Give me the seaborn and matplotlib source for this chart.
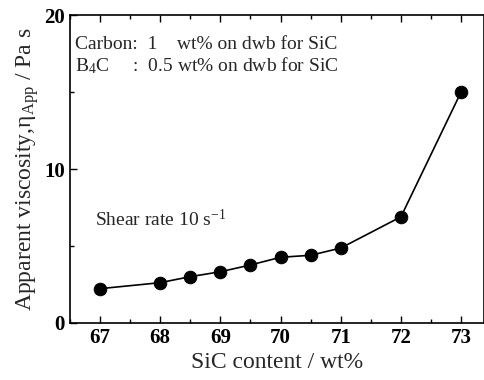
import matplotlib
matplotlib.use("Agg")
import matplotlib.pyplot as plt
import seaborn as sns
import pandas as pd
from matplotlib.ticker import MultipleLocator

sic = [67, 68, 68.5, 69, 69.5, 70, 70.5, 71, 72, 73]
visc = [2.23, 2.62, 3.01, 3.33, 3.77, 4.27, 4.40, 4.87, 6.90, 15.02]
xticks = [67, 68, 69, 70, 71, 72, 73]
yticks = [0, 10, 20]

sns.set_theme(style="ticks")
plt.rcParams['font.family'] = ['Liberation Serif', 'DejaVu Serif']
plt.rcParams['mathtext.fontset'] = 'custom'
plt.rcParams['mathtext.rm'] = 'Liberation Serif'
plt.rcParams['mathtext.it'] = 'Liberation Serif'

df = pd.DataFrame({"sic": sic, "visc": visc})
fig = plt.figure(figsize=(4.85, 3.8), dpi=100)
ax = fig.add_axes([0.144, 0.15, 0.854, 0.81])
sns.lineplot(data=df, x="sic", y="visc", ax=ax, color="black", lw=1.2,
             marker="o", markersize=9, markerfacecolor="black", markeredgecolor="black")
ax.set_xlim(66.5, 73.38)
ax.set_ylim(0, 20)
ax.set_xticks(xticks)
ax.set_yticks(yticks)
ax.xaxis.set_minor_locator(MultipleLocator(0.5))
ax.yaxis.set_minor_locator(MultipleLocator(5))
ax.tick_params(which="both", direction="in", top=True, right=False, labelsize=15, width=1, colors="black")
ax.tick_params(which="major", length=5)
ax.tick_params(which="minor", length=3)
for lab in ax.get_xticklabels() + ax.get_yticklabels():
    lab.set_fontweight("bold")
for s in ax.spines.values():
    s.set_linewidth(1.2)
    s.set_color("black")
ax.set_xlabel("SiC content / wt%", fontsize=17, labelpad=3)
ax.set_ylabel(r"Apparent viscosity,$\eta_{App}$ / Pa s", fontsize=17, labelpad=2)
ax.text(0.012, 0.905, "Carbon:  1    wt% on dwb for SiC", transform=ax.transAxes, fontsize=14, va="center")
ax.text(0.012, 0.837, r"B$_4$C     :  0.5 wt% on dwb for SiC", transform=ax.transAxes, fontsize=14, va="center")
ax.text(0.06, 0.335, r"Shear rate 10 s$^{-1}$", transform=ax.transAxes, fontsize=14, va="center")
fig.savefig("out.png", dpi=100)
